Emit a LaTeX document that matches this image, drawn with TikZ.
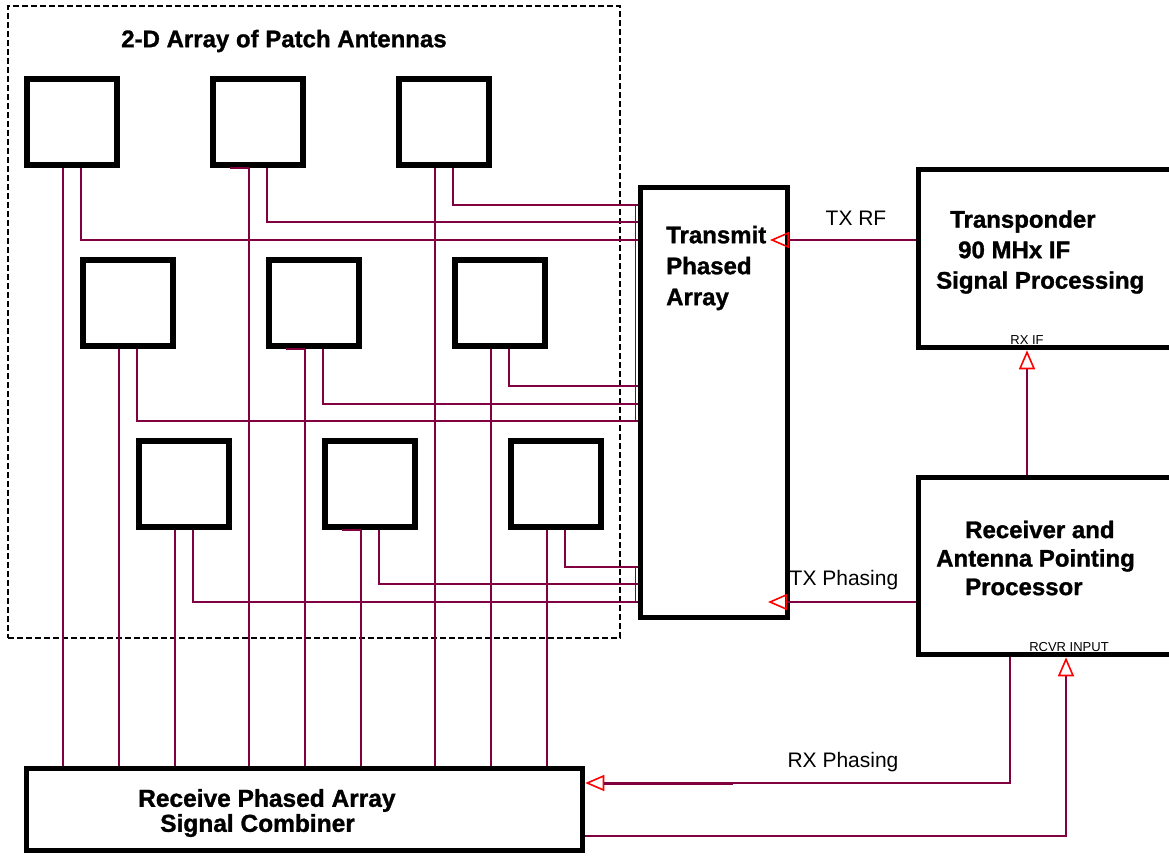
\documentclass[tikz,border=0pt]{standalone}
\usepackage{fontspec}
\setmainfont{Liberation Sans}[BoldFeatures={FakeBold=1.2}]
\usetikzlibrary{arrows.meta}
\definecolor{wirec}{RGB}{128,0,64}
\begin{document}
\begin{tikzpicture}[x=1pt,y=-1pt,
  patch/.style={draw, line width=6pt, minimum width=90pt, minimum height=86pt, inner sep=0pt},
  blk/.style={draw, line width=5.5pt, inner sep=0pt},
  wire/.style={draw=wirec, line width=1.4pt},
  tip/.style={-{Triangle[open,length=19pt,width=16pt,color=red,line width=1.6pt]}},
  boldtxt/.style={font=\fontsize{24}{31}\selectfont\bfseries, align=left, inner sep=0pt},
  lbl/.style={font=\fontsize{21}{25}\selectfont, inner sep=0pt},
  smalllbl/.style={font=\fontsize{13}{15}\selectfont, inner sep=0pt}]
\useasboundingbox (0,0) rectangle (1169,857);
\clip (0,0) rectangle (1169,857);
\fill[white] (0,0) rectangle (1169,857);

% dashed frame of the antenna array
\node[draw, line width=1.8pt, dash pattern=on 6pt off 3pt, minimum width=612pt, minimum height=632pt, inner sep=0pt] (array) at (314,322) {};
\node[boldtxt] (title) at (284,41) {2-D Array of Patch Antennas};

% patches
\foreach \n/\x/\y in {p11/72/122, p12/258/122, p13/444/122,
                      p21/128/303, p22/314/303, p23/500/303,
                      p31/184/484, p32/370/484, p33/556/484}
  \node[patch] (\n) at (\x,\y) {};

% blocks
\node[blk, minimum width=147pt, minimum height=430pt] (tpa) at (714,402.5) {};
\node[boldtxt, anchor=west] (tpatext) at (666,268) {Transmit\\Phased\\Array};

\node[blk, minimum width=259pt, minimum height=178pt] (tp) at (1048,258.5) {};
\node[boldtxt, anchor=west, font=\fontsize{24}{30.5}\selectfont\bfseries] (tptext) at (936,252) {\hspace{14pt}Transponder\\\hspace{22pt}90 MHx IF\\Signal Processing};

\node[blk, minimum width=259pt, minimum height=177pt] (rx) at (1048,566) {};
\node[boldtxt, anchor=west, font=\fontsize{24}{28.5}\selectfont\bfseries] (rxtext) at (936,558) {\hspace{29pt}Receiver and\\Antenna Pointing\\\hspace{29pt}Processor};

\node[blk, minimum width=556pt, minimum height=82pt] (cb) at (304.5,809.5) {};
\node[boldtxt, anchor=west, font=\fontsize{24.5}{25}\selectfont\bfseries] (cbtext) at (138,813) {Receive Phased Array\\\hspace{22pt}Signal Combiner};

% receive wires (left lead of each patch to the combiner)
\foreach \n in {p11,p12,p13,p21,p22,p23,p31,p32,p33}
  \draw[wire] ([xshift=-9pt]\n.south) -- ([xshift=-9pt]\n.south |- cb.north);
% small hooks on the middle column
\foreach \n in {p12,p22,p32}
  \draw[wire] ([xshift=-28pt]\n.south) -- ([xshift=-9pt]\n.south);

% transmit wires (right lead of each patch to the transmit array)
\foreach \n/\yy in {p11/240, p12/222, p13/205, p21/421, p22/404, p23/386, p31/602, p32/584, p33/567}
  \draw[wire] ([xshift=9pt]\n.south) |- (tpa.west |- 0,\yy);
\draw[wire] ([xshift=-2pt]tpa.west |- 0,205) -- ([xshift=-2pt]tpa.west |- 0,421);
\draw[wire] ([xshift=-2pt]tpa.west |- 0,567) -- ([xshift=-2pt]tpa.west |- 0,602);

% signal connectors
\coordinate (txrfend) at (770,240);
\coordinate (txphend) at (768,602);
\draw[wire, tip] (tp.west |- 0,240) -- (txrfend);
\node[lbl] (txrf) at (856,218) {TX RF};
\draw[wire, tip] (rx.west |- 0,602) -- (txphend);
\node[lbl] (txph) at (844,580) {TX Phasing};
\draw[wire, tip] (rx.north -| 1027,0) -- (tp.south -| 1027,0);
\node[smalllbl] (rxif) at (1027,340) {RX IF};
\draw[wire, tip] (rx.south -| 1010,0) |- (cb.east |- 0,783);
\draw[wirec, line width=3pt] (604,783) -- (733,783);
\node[lbl] (rxph) at (843,762) {RX Phasing};
\draw[wire, tip] (cb.east |- 0,836) -| (rx.south -| 1066,0);
\node[smalllbl] (rcvr) at (1069,647) {RCVR INPUT};
\end{tikzpicture}
\end{document}
